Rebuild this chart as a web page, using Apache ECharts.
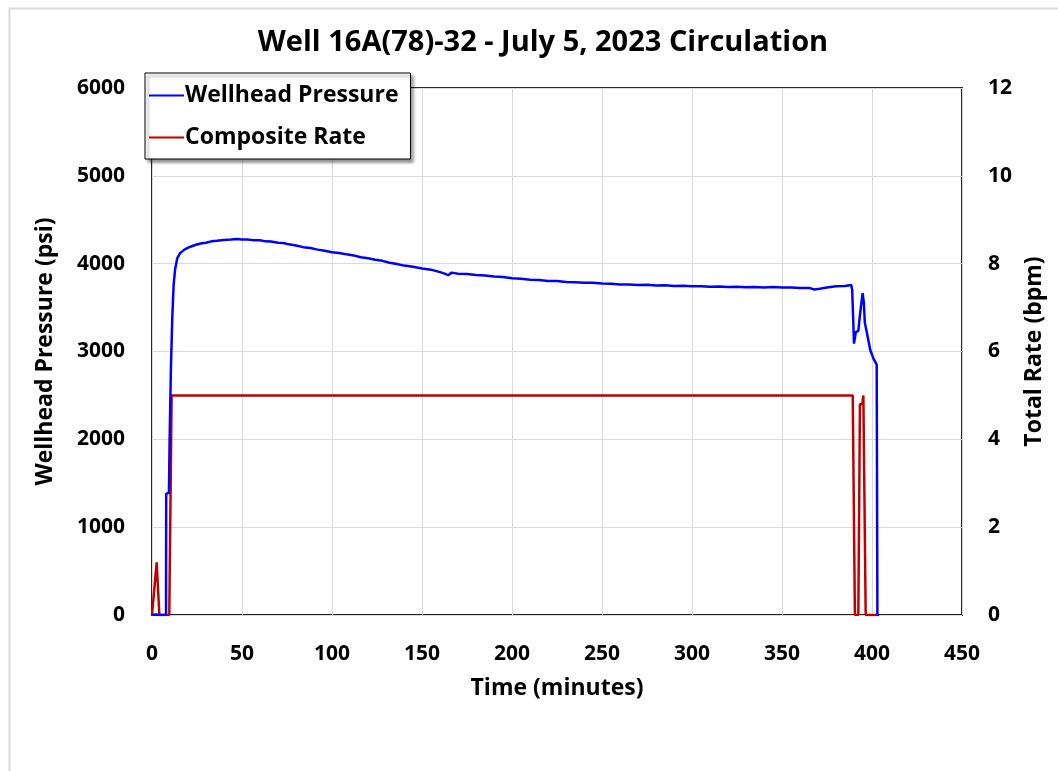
<!DOCTYPE html>
<html>
<head>
<meta charset="utf-8">
<script src="https://cdn.jsdelivr.net/npm/echarts@6/dist/echarts.min.js"></script>
<style>
  html, body { margin: 0; padding: 0; background: #fff; }
  #chart { width: 1058px; height: 771px; }
</style>
</head>
<body>
<div id="chart"></div>
<script>
// Wellhead pressure (psi) vs elapsed time (minutes)
const pressureTime = [
  0, 2, 4, 7.8, 7.9, 9.4, 9.8, 10.5, 11.3, 12, 12.8, 14, 15.6, 18, 21, 24, 27, 30, 33, 36,
  40, 44, 47, 50, 53, 56, 60, 63, 66, 70, 73, 76, 80, 84, 88, 92, 96, 100, 104, 108,
  112, 116, 120, 124, 128, 132, 136, 140, 145, 150, 155, 160, 163, 164.5, 166.5, 170, 175, 180, 185, 190,
  195, 200, 205, 210, 215, 220, 225, 230, 235, 240, 245, 250, 255, 260, 265, 270, 275, 280, 285, 290,
  295, 300, 305, 310, 315, 320, 325, 330, 335, 340, 345, 350, 355, 360, 365, 368, 371, 375, 380, 385,
  388.5, 389, 390, 391, 392.4, 393.5, 394.8, 395.5, 396, 397.5, 399, 400.7, 402.6, 403, 404
];
const pressurePsi = [
  0, 6, 0, 0, 1380, 1390, 2000, 2800, 3400, 3750, 3930, 4060, 4120, 4160, 4190, 4212, 4230, 4238, 4254, 4260,
  4270, 4276, 4282, 4276, 4274, 4268, 4266, 4254, 4252, 4238, 4236, 4220, 4206, 4188, 4178, 4160, 4147, 4131, 4122, 4106,
  4094, 4074, 4062, 4044, 4032, 4010, 3996, 3978, 3964, 3944, 3932, 3904, 3884, 3868, 3898, 3886, 3882, 3870, 3864, 3853,
  3848, 3834, 3828, 3818, 3814, 3804, 3802, 3790, 3788, 3782, 3782, 3774, 3772, 3764, 3764, 3758, 3760, 3752, 3754, 3746,
  3748, 3744, 3744, 3738, 3740, 3735, 3738, 3732, 3735, 3730, 3734, 3728, 3730, 3724, 3724, 3706, 3714, 3728, 3742, 3746,
  3758, 3700, 3090, 3220, 3235, 3450, 3664, 3550, 3330, 3180, 3020, 2925, 2850, 0, 0
];

// Composite pump rate (bpm) vs elapsed time (minutes)
const rateTime = [0, 2.6, 4.1, 9.6, 10.9, 389.3, 390.5, 392.4, 393.3, 394.6, 395.2, 396.5, 403];
const rateBpm  = [0, 1.2, 0,   0,   5,    5,     0,     0,     4.8,   4.8,   5,     0,     0];

const xTicks = { min: 0, max: 450, step: 50 };
const pressureTicks = { min: 0, max: 6000, step: 1000 };
const rateTicks = { min: 0, max: 12, step: 2 };

const pressureData = pressureTime.map((t, i) => [t, pressurePsi[i]]);
const rateData = rateTime.map((t, i) => [t, rateBpm[i]]);

const font = '"Open Sans", "Noto Sans", sans-serif';
const plain = v => String(v);
const tickText = { fontFamily: font, fontWeight: 'bold', fontSize: 21, color: '#000' };
const nameText = { fontFamily: font, fontWeight: 'bold', fontSize: 23, color: '#000' };
const chart = echarts.init(document.getElementById('chart'));

chart.setOption({
  backgroundColor: '#ffffff',
  animation: false,
  graphic: [{
    type: 'rect',
    left: 7, top: 6,
    shape: { width: 1200, height: 1000 },
    style: { fill: 'none', stroke: '#d9d9d9', lineWidth: 2 },
    silent: true,
    z: -1
  }],
  title: {
    text: 'Well 16A(78)-32 - July 5, 2023 Circulation',
    left: 538, top: 23, textAlign: 'center',
    textStyle: { fontFamily: font, fontWeight: 'bold', fontSize: 29, color: '#000' }
  },
  legend: {
    left: 145, top: 73,
    orient: 'vertical',
    itemWidth: 35, itemHeight: 2, itemGap: 19,
    padding: [11, 12, 10, 4],
    backgroundColor: '#ffffff',
    borderColor: '#000000', borderWidth: 1,
    shadowColor: 'rgba(0,0,0,0.45)', shadowBlur: 3, shadowOffsetX: 3, shadowOffsetY: 3,
    textStyle: { fontFamily: font, fontWeight: 'bold', fontSize: 23, color: '#000', padding: [0, 0, 0, -4] },
    data: [
      { name: 'Wellhead Pressure', icon: 'rect' },
      { name: 'Composite Rate', icon: 'rect' }
    ]
  },
  grid: {
    left: 152, right: 96, top: 88, bottom: 156,
    show: true, borderColor: '#262626', borderWidth: 2, backgroundColor: 'transparent'
  },
  xAxis: {
    type: 'value',
    min: xTicks.min, max: xTicks.max, interval: xTicks.step,
    name: 'Time (minutes)', nameLocation: 'middle', nameGap: 62,
    nameTextStyle: nameText,
    axisLine: { show: false }, axisTick: { show: false },
    axisLabel: Object.assign({ margin: 29, formatter: plain }, tickText),
    splitLine: { show: true, lineStyle: { color: '#d9d9d9', width: 1 } }
  },
  yAxis: [{
    type: 'value',
    min: pressureTicks.min, max: pressureTicks.max, interval: pressureTicks.step,
    name: 'Wellhead Pressure (psi)', nameLocation: 'middle', nameGap: 95,
    nameTextStyle: nameText,
    axisLine: { show: false }, axisTick: { show: false },
    axisLabel: Object.assign({ margin: 27, formatter: plain }, tickText),
    splitLine: { show: true, lineStyle: { color: '#d9d9d9', width: 1 } }
  }, {
    type: 'value',
    position: 'right',
    min: rateTicks.min, max: rateTicks.max, interval: rateTicks.step,
    name: 'Total Rate (bpm)', nameLocation: 'middle', nameGap: 59, nameRotate: 90,
    nameTextStyle: nameText,
    axisLine: { show: false }, axisTick: { show: false },
    axisLabel: Object.assign({ margin: 26, formatter: plain }, tickText),
    splitLine: { show: false }
  }],
  series: [{
    name: 'Composite Rate',
    type: 'line',
    yAxisIndex: 1,
    data: rateData,
    symbol: 'none',
    lineStyle: { color: '#C00000', width: 2.5 },
    itemStyle: { color: '#C00000' },
    z: 2
  }, {
    name: 'Wellhead Pressure',
    type: 'line',
    yAxisIndex: 0,
    data: pressureData,
    symbol: 'none',
    lineStyle: { color: '#0000FF', width: 2.5 },
    itemStyle: { color: '#0000FF' },
    z: 3
  }]
});
</script>
</body>
</html>
